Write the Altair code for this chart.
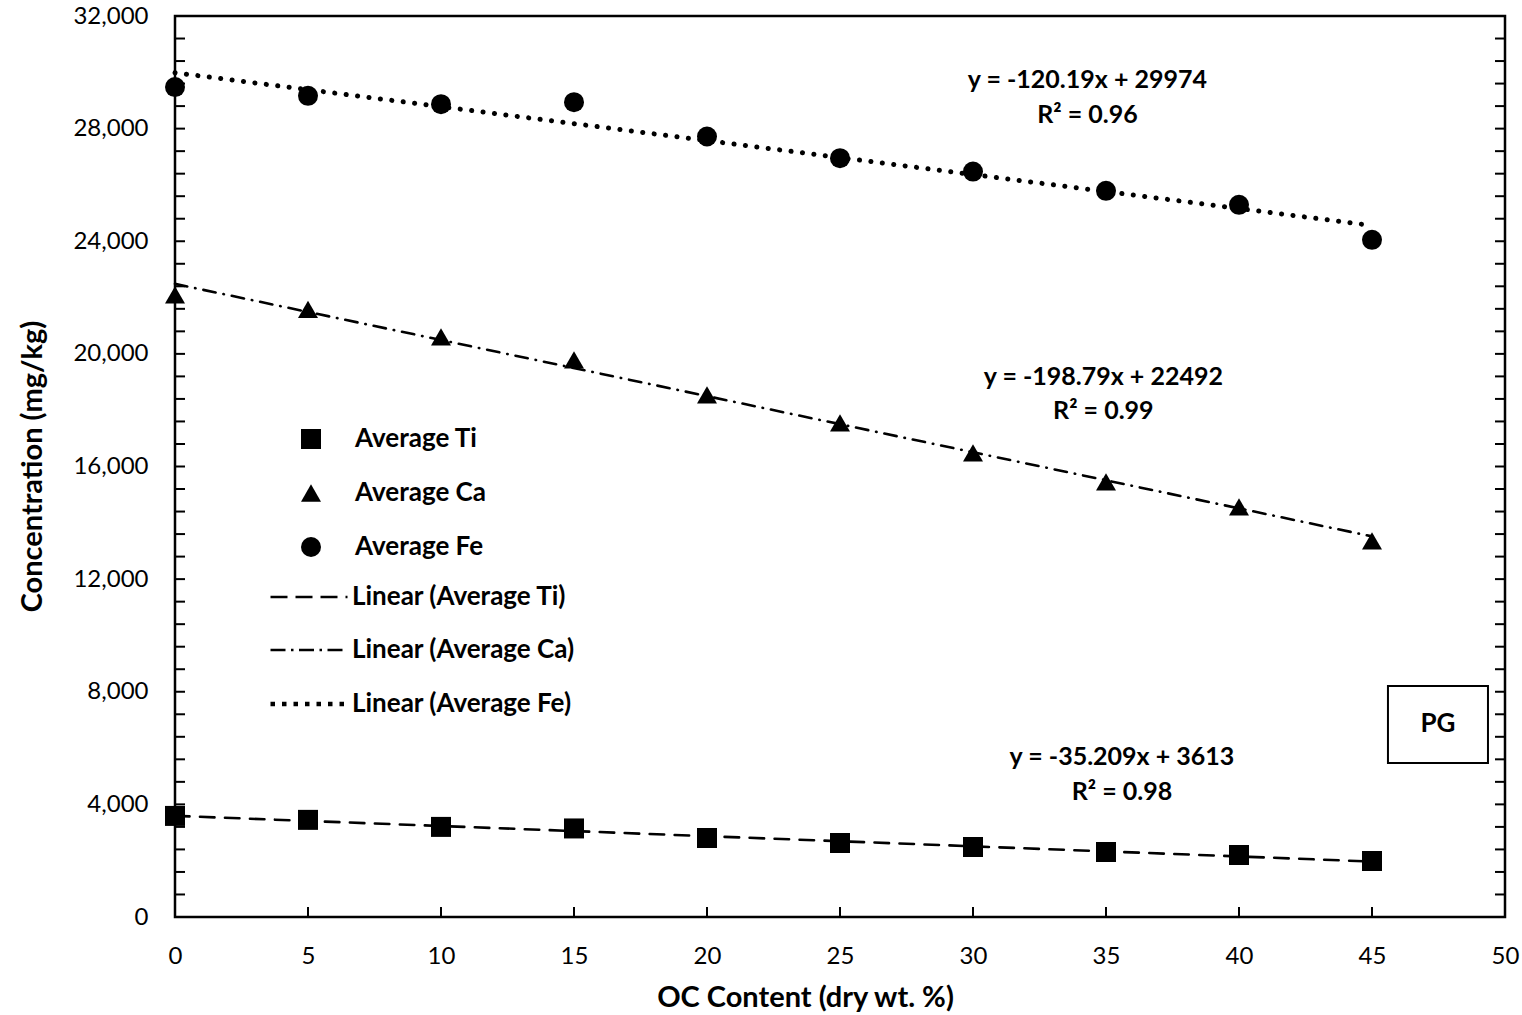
import altair as alt
import pandas as pd

oc = [0, 5, 10, 15, 20, 25, 30, 35, 40, 45]
ti = [3590, 3450, 3200, 3145, 2806, 2629, 2487, 2309, 2202, 1989]
ca = [22096, 21580, 20604, 19787, 18544, 17549, 16483, 15453, 14565, 13357]
fe = [29474, 29165, 28870, 28940, 27720, 26950, 26475, 25790, 25293, 24050]

series_names = ["Average Ti", "Average Ca", "Average Fe"]
trend_names = ["Linear (Average Ti)", "Linear (Average Ca)", "Linear (Average Fe)"]

y_minor = list(range(0, 32001, 800))
x_major = [0, 5, 10, 15, 20, 25, 30, 35, 40, 45]

ann_x = [34.3, 34.3, 34.9, 34.9, 35.6, 35.6]
ann_y = [29730, 28490, 19180, 17975, 5685, 4440]
ann_text = ["y = -120.19x + 29974", "R² = 0.96",
            "y = -198.79x + 22492", "R² = 0.99",
            "y = -35.209x + 3613", "R² = 0.98"]

box_x = [45.6]
box_x2 = [49.36]
box_y = [8205]
box_y2 = [5470]
box_label = ["PG"]

FONT = "Lato"

rows = []
for name, vals in zip(series_names, [ti, ca, fe]):
    for x, v in zip(oc, vals):
        rows.append({"x": x, "value": v, "series": name})
df = pd.DataFrame(rows)

W, H = 1330, 901
xscale = alt.Scale(domain=[0, 50], nice=False, zero=False)
yscale = alt.Scale(domain=[0, 32000], nice=False)

xaxis = alt.Axis(values=list(range(0, 51, 5)), grid=False, domain=False, ticks=False, tickSize=0,
                 labelFontSize=24, labelFont=FONT, labelColor="black", labelPadding=27,
                 labelFlush=False, labelOverlap=False,
                 title="OC Content (dry wt. %)", titleFont=FONT, titleFontSize=29,
                 titleFontWeight="bold", titleColor="black", titleX=630, titleY=80,
                 titleBaseline="middle", titleAlign="center")
yaxis = alt.Axis(values=list(range(0, 32001, 4000)), labelExpr="format(datum.value, ',')",
                 grid=False, domain=False, labelFlush=False, labelOverlap=False,
                 ticks=False, tickSize=0, labelFontSize=24, labelFont=FONT, labelColor="black",
                 labelPadding=27, title="Concentration (mg/kg)", titleFont=FONT,
                 titleFontSize=29, titleFontWeight="bold", titleColor="black",
                 titleX=-143, titleY=450, titleBaseline="middle", titleAlign="center",
                 titleAngle=-90)


def X(field):
    return alt.X(field, scale=xscale, axis=xaxis)


def Y(field):
    return alt.Y(field, scale=yscale, axis=yaxis)


base = alt.Chart(df)

# trend lines drawn in the plot (round caps give round dots)
lines = base.transform_regression(
    "x", "value", groupby=["series"]
).transform_calculate(
    trend="'Linear (' + datum.series + ')'"
).mark_line(color="black", strokeCap="round").encode(
    x=X("x:Q"),
    y=Y("value:Q"),
    strokeDash=alt.StrokeDash(
        "trend:N",
        scale=alt.Scale(domain=trend_names,
                        range=[[14.5, 10.5], [12.5, 8, 0.5, 8], [0.1, 11.4]]),
        legend=None,
    ),
    strokeWidth=alt.StrokeWidth(
        "trend:N",
        scale=alt.Scale(type="ordinal", domain=trend_names, range=[2.6, 2.6, 5]),
        legend=None),
    detail="series:N",
)

# legend-only layer (no marks drawn), butt-capped dash patterns for the legend symbols
leg_props = dict(title=None, orient="none", legendX=93, legendY=541,
                 symbolType="stroke", symbolSize=5929,
                 symbolStrokeColor="black", labelFont=FONT, labelFontSize=26,
                 labelFontWeight="bold", labelColor="black", labelOffset=2,
                 rowPadding=0, labelLimit=400)
legend_layer = base.transform_calculate(
    trend="'Linear (' + datum.series + ')'"
).transform_filter("false").mark_line(color="black").encode(
    x=X("x:Q"),
    y=Y("value:Q"),
    strokeDash=alt.StrokeDash(
        "trend:N",
        scale=alt.Scale(domain=trend_names,
                        range=[[17, 8], [15, 5.5, 2.5, 5.5], [4.5, 7]]),
        legend=alt.Legend(**leg_props),
    ),
    strokeWidth=alt.StrokeWidth(
        "trend:N",
        scale=alt.Scale(type="ordinal", domain=trend_names, range=[2.6, 2.6, 4.5]),
        legend=alt.Legend(**leg_props)),
)

points = base.mark_point(filled=True, color="black", opacity=1, size=400).encode(
    x=X("x:Q"),
    y=Y("value:Q"),
    shape=alt.Shape(
        "series:N",
        scale=alt.Scale(domain=series_names, range=["square", "triangle-up", "circle"]),
        legend=alt.Legend(title=None, orient="none", legendX=123, legendY=410,
                          symbolSize=400, symbolFillColor="black", symbolStrokeWidth=0,
                          labelFont=FONT, labelFontSize=26, labelFontWeight="bold",
                          labelColor="black", labelOffset=31, rowPadding=28,
                          labelLimit=400),
    ),
)

tick_df = pd.DataFrame({"v": y_minor})
lticks = alt.Chart(tick_df).mark_rule(color="black", strokeWidth=2).encode(
    x=alt.value(0), x2=alt.value(10), y=Y("v:Q"))
rticks = alt.Chart(tick_df).mark_rule(color="black", strokeWidth=2).encode(
    x=alt.value(W - 10), x2=alt.value(W), y=Y("v:Q"))
xt_df = pd.DataFrame({"v": x_major})
bticks = alt.Chart(xt_df).mark_rule(color="black", strokeWidth=2).encode(
    x=X("v:Q"), y=alt.value(H - 10), y2=alt.value(H))

ann_df = pd.DataFrame({"x": ann_x, "y": ann_y, "t": ann_text})
ann = alt.Chart(ann_df).mark_text(font=FONT, fontSize=25, fontWeight="bold", color="black",
                                  align="center", baseline="middle").encode(
    x=X("x:Q"), y=Y("y:Q"), text="t:N")

box_df = pd.DataFrame({"x": box_x, "x2": box_x2, "y": box_y, "y2": box_y2, "t": box_label})
box = alt.Chart(box_df).mark_rect(fill="white", stroke="black", strokeWidth=2).encode(
    x=X("x:Q"), x2="x2:Q", y=Y("y:Q"), y2="y2:Q")
box_text = alt.Chart(box_df).transform_calculate(
    cx="(datum.x + datum.x2) / 2", cy="(datum.y + datum.y2) / 2"
).mark_text(font=FONT, fontSize=26, fontWeight="bold", color="black",
            align="center", baseline="middle").encode(
    x=X("cx:Q"), y=Y("cy:Q"), text="t:N")

chart = alt.layer(lines, legend_layer, points, lticks, rticks, bticks, ann, box,
                  box_text).resolve_scale(
    strokeDash="independent", strokeWidth="independent"
).properties(
    width=W, height=H,
    autosize=alt.AutoSizeParams(type="none"),
    padding={"left": 175, "top": 16, "right": 17, "bottom": 98},
    background="white",
).configure_view(stroke="black", strokeWidth=2.5)

chart.save("out.html", embed_options={"renderer": "svg", "actions": False})
